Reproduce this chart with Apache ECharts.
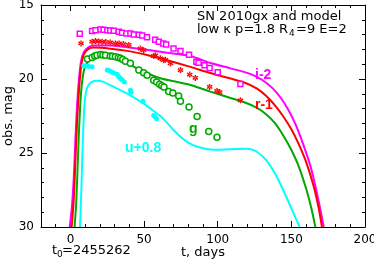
<!DOCTYPE html>
<html>
<head>
<meta charset="utf-8">
<script src="https://cdn.jsdelivr.net/npm/echarts@6/dist/echarts.min.js"></script>
<style>html,body{margin:0;padding:0;background:#fff}#c{width:374px;height:261px}</style>
</head>
<body>
<div id="c"></div>
<script>
// ---- data (t in days, observed magnitude) ----
const xMajorTicks = [0, 50, 100, 150, 200];
const xMinorTicks = [-10, 10, 20, 30, 40, 60, 70, 80, 90, 110, 120, 130, 140, 160, 170, 180, 190];

const iObs = [[6.3,16.95],[14.7,16.75],[17,16.7],[20.4,16.66],[22.5,16.68],[25,16.7],[27,16.73],[29.4,16.74],[32.8,16.8],[35,16.87],[38,16.92],[40.7,16.93],[43,17.0],[46.4,17.01],[48.7,17.06],[52,17.18],[57.5,17.35],[60,17.48],[63,17.6],[65,17.67],[70,17.94],[74.7,18.1],[80.5,18.36],[85.5,18.84],[87,18.9],[91,19.07],[94.5,19.25],[100,19.55],[115.4,20.33]];
const rObs = [[7.2,17.6],[14.7,17.48],[17,17.44],[19.2,17.46],[21.5,17.48],[24,17.5],[27,17.53],[30.5,17.6],[33,17.6],[36,17.64],[39.6,17.7],[47.5,17.94],[49.7,18.05],[56.5,18.45],[57.7,18.4],[61,18.6],[63.3,18.73],[64.5,18.7],[67.9,18.95],[74.7,19.4],[81,19.7],[84.8,19.93],[94.5,20.54],[99.5,20.81],[101.3,20.88],[115.4,21.44]];
const gObs = [[11.5,18.65],[14.7,18.55],[16.5,18.45],[18,18.39],[20.4,18.35],[22,18.37],[23.8,18.4],[27,18.44],[28.5,18.47],[30.5,18.5],[32.5,18.55],[34,18.6],[35.5,18.68],[37.3,18.8],[40.7,18.93],[46.4,19.4],[49.7,19.57],[52,19.75],[56.5,20.08],[58.5,20.2],[60.5,20.35],[62,20.45],[63.5,20.54],[66.7,20.85],[69.5,20.95],[73.5,21.15],[74.7,21.5],[80.5,21.9],[86,22.53],[93.9,23.54],[99.5,23.93]];
const uObs = [[9,19.11],[10.5,19.13],[12.4,19.15],[14.7,19.18],[25,19.4],[26.5,19.45],[28.3,19.55],[29.4,19.6],[31.7,19.68],[32.8,19.85],[34,19.97],[35,20.05],[36.6,20.2],[40.7,20.76],[41.2,20.9],[49.3,21.5],[56.5,22.46],[57.5,22.55],[58.5,22.68]];

const iModel = [[-0.5,30],[1,28.6],[2.3,26.6],[3.4,24.0],[4.5,21.8],[5.7,20.1],[7.2,18.8],[9,18.2],[12.4,17.85],[15.8,17.74],[27,17.74],[38.5,17.86],[52,18.03],[65.6,18.22],[81.4,18.45],[95,18.92],[108.6,19.28],[122,19.65],[130,20.05],[137,20.6],[143,21.3],[148,22.1],[153,23.1],[158,24.4],[163,25.9],[168,28.0],[172,30]];
const rModel = [[0.8,30],[2.2,28.2],[3.5,25.2],[4.7,22.5],[5.9,20.6],[7.2,19.2],[9,18.35],[12,17.98],[15.8,17.88],[27,17.95],[38.5,18.1],[52,18.38],[65.6,18.73],[81.4,19.18],[95,19.6],[108.6,19.97],[117.6,20.22],[126.7,20.65],[133,21.15],[139,21.8],[145,22.6],[150,23.4],[155,24.4],[160,25.6],[165,27.2],[168.5,28.7],[170.8,30]];
const gModel = [[2.8,30],[4,28.2],[5.2,25],[6.5,22],[7.8,20.3],[9.5,19.3],[12.4,18.75],[15.8,18.5],[20.4,18.42],[27,18.5],[38.5,18.95],[49.7,19.5],[61,19.95],[72.4,20.2],[81.4,20.4],[95,20.85],[108.6,21.28],[117.6,21.55],[126.7,21.95],[133,22.4],[139,23.0],[145,23.9],[150,24.8],[155,25.9],[160,27.4],[163.5,28.7],[166.3,30]];
const uModel = [[6.5,30],[7.4,27.5],[8.4,24.2],[9.5,21.8],[11,20.7],[13.6,20.25],[18,20.12],[22,20.18],[27,20.42],[38.5,20.99],[49.7,21.66],[55,22.05],[61,22.5],[66,23.0],[70,23.45],[74.7,23.9],[80,24.3],[86,24.58],[97.3,24.78],[108.6,24.74],[120,24.72],[127,24.95],[133,25.5],[139,26.4],[144,27.4],[148.5,28.4],[152.5,29.3],[155.6,30]];

// ---- styling ----
const MAG = '#ff00ff', RED = '#ff0000', GRN = '#00a800', CYN = '#00ffff';
const FONT = 'DejaVu Sans';
const ASTER = 'path://M-1.2,-5L1.2,-5L1.2,5L-1.2,5Z M3.73,3.54L4.93,1.46L-3.73,-3.54L-4.93,-1.46Z M-4.93,1.46L-3.73,3.54L4.93,-1.46L3.73,-3.54Z';

const chart = echarts.init(document.getElementById('c'), null, {renderer: 'canvas'});

function xAx(pos, ticks, len, labels, line) {
  return {
    type: 'value', min: -20, max: 200, position: pos,
    axisLine: {show: line, onZero: false, lineStyle: {color: '#000', width: 1}},
    axisTick: {show: true, inside: true, length: len, customValues: ticks, lineStyle: {color: '#000', width: 1}},
    axisLabel: labels ? {show: true, customValues: ticks, color: '#000', fontSize: 12, fontFamily: FONT, margin: 7} : {show: false},
    splitLine: {show: false}
  };
}
function yAx(pos, labels) {
  return {
    type: 'value', min: 15, max: 30, interval: 5, inverse: true, position: pos,
    axisLine: {show: true, onZero: false, lineStyle: {color: '#000', width: 1}},
    axisTick: {show: true, inside: true, length: 6, lineStyle: {color: '#000', width: 1}},
    minorTick: {show: true, splitNumber: 5, length: 3, lineStyle: {color: '#000', width: 1}},
    axisLabel: labels ? {show: true, color: '#000', fontSize: 12, fontFamily: FONT, margin: 7} : {show: false},
    splitLine: {show: false}, minorSplitLine: {show: false}
  };
}

const xBottom = xAx('bottom', xMajorTicks, 6, true, true);
xBottom.name = 't, days';
xBottom.nameLocation = 'middle';
xBottom.nameGap = 19;
xBottom.nameMoveOverlap = false;
xBottom.nameTextStyle = {color: '#000', fontSize: 13, fontFamily: FONT};

const yLeft = yAx('left', true);
yLeft.name = 'obs. mag';
yLeft.nameLocation = 'middle';
yLeft.nameGap = 26;
yLeft.nameMoveOverlap = false;
yLeft.nameTextStyle = {color: '#000', fontSize: 13, fontFamily: FONT};

function line(data, color) {
  return {type: 'line', data: data, showSymbol: false, symbol: 'none', smooth: 0.25,
          lineStyle: {color: color, width: 2}, itemStyle: {color: color}, silent: true, z: 2, animation: false};
}
function pts(data, symbol, size, color, hollow) {
  return {type: 'scatter', data: data, symbol: symbol, symbolSize: size, silent: true, z: 3, animation: false,
          itemStyle: hollow ? {color: '#fff', borderColor: color, borderWidth: 1.5, opacity: 1} : {color: color, opacity: 1}};
}

const txt = (x, y, s, size, color, bold, family, align) => ({
  type: 'text', x: x, y: y, z: 10,
  style: {text: s, fontSize: size, fontFamily: family || FONT, fontWeight: bold ? 'bold' : 'normal',
          fill: color || '#000', align: align || 'left', verticalAlign: 'middle'}
});

chart.setOption({
  animation: false,
  backgroundColor: '#fff',
  grid: {left: 41, right: 9, top: 5, bottom: 34, containLabel: false, outerBoundsMode: 'none'},
  xAxis: [xBottom, xAx('bottom', xMinorTicks, 3, false, false), xAx('top', xMajorTicks, 6, false, true), xAx('top', xMinorTicks, 3, false, false)],
  yAxis: [yLeft, yAx('right', false)],
  series: [
    line(iModel, MAG), line(rModel, RED), line(gModel, GRN), line(uModel, CYN),
    pts(iObs, 'rect', 5, MAG, true),
    pts(rObs, ASTER, 6, RED, false),
    pts(gObs, 'circle', 6, GRN, true),
    pts(uObs, 'circle', 5, CYN, false)
  ],
  graphic: [
    txt(197, 17, 'SN 2010gx and model', 13),
    txt(197, 30, 'low κ p=1.8 R', 13),
    txt(289, 34, '4', 9),
    txt(296, 30, '=9 E=2', 13),
    txt(52, 251, 't', 13),
    txt(57, 255, '0', 9),
    txt(62, 251, '=2455262', 13),
    txt(255, 75, 'i-2', 14, MAG, true, 'Liberation Sans'),
    txt(255, 105, 'r-1', 14, RED, true, 'Liberation Sans'),
    txt(189, 129, 'g', 14, GRN, true, 'Liberation Sans'),
    txt(125, 148, 'u+0.8', 14, CYN, true, 'Liberation Sans')
  ]
});
</script>
</body>
</html>
